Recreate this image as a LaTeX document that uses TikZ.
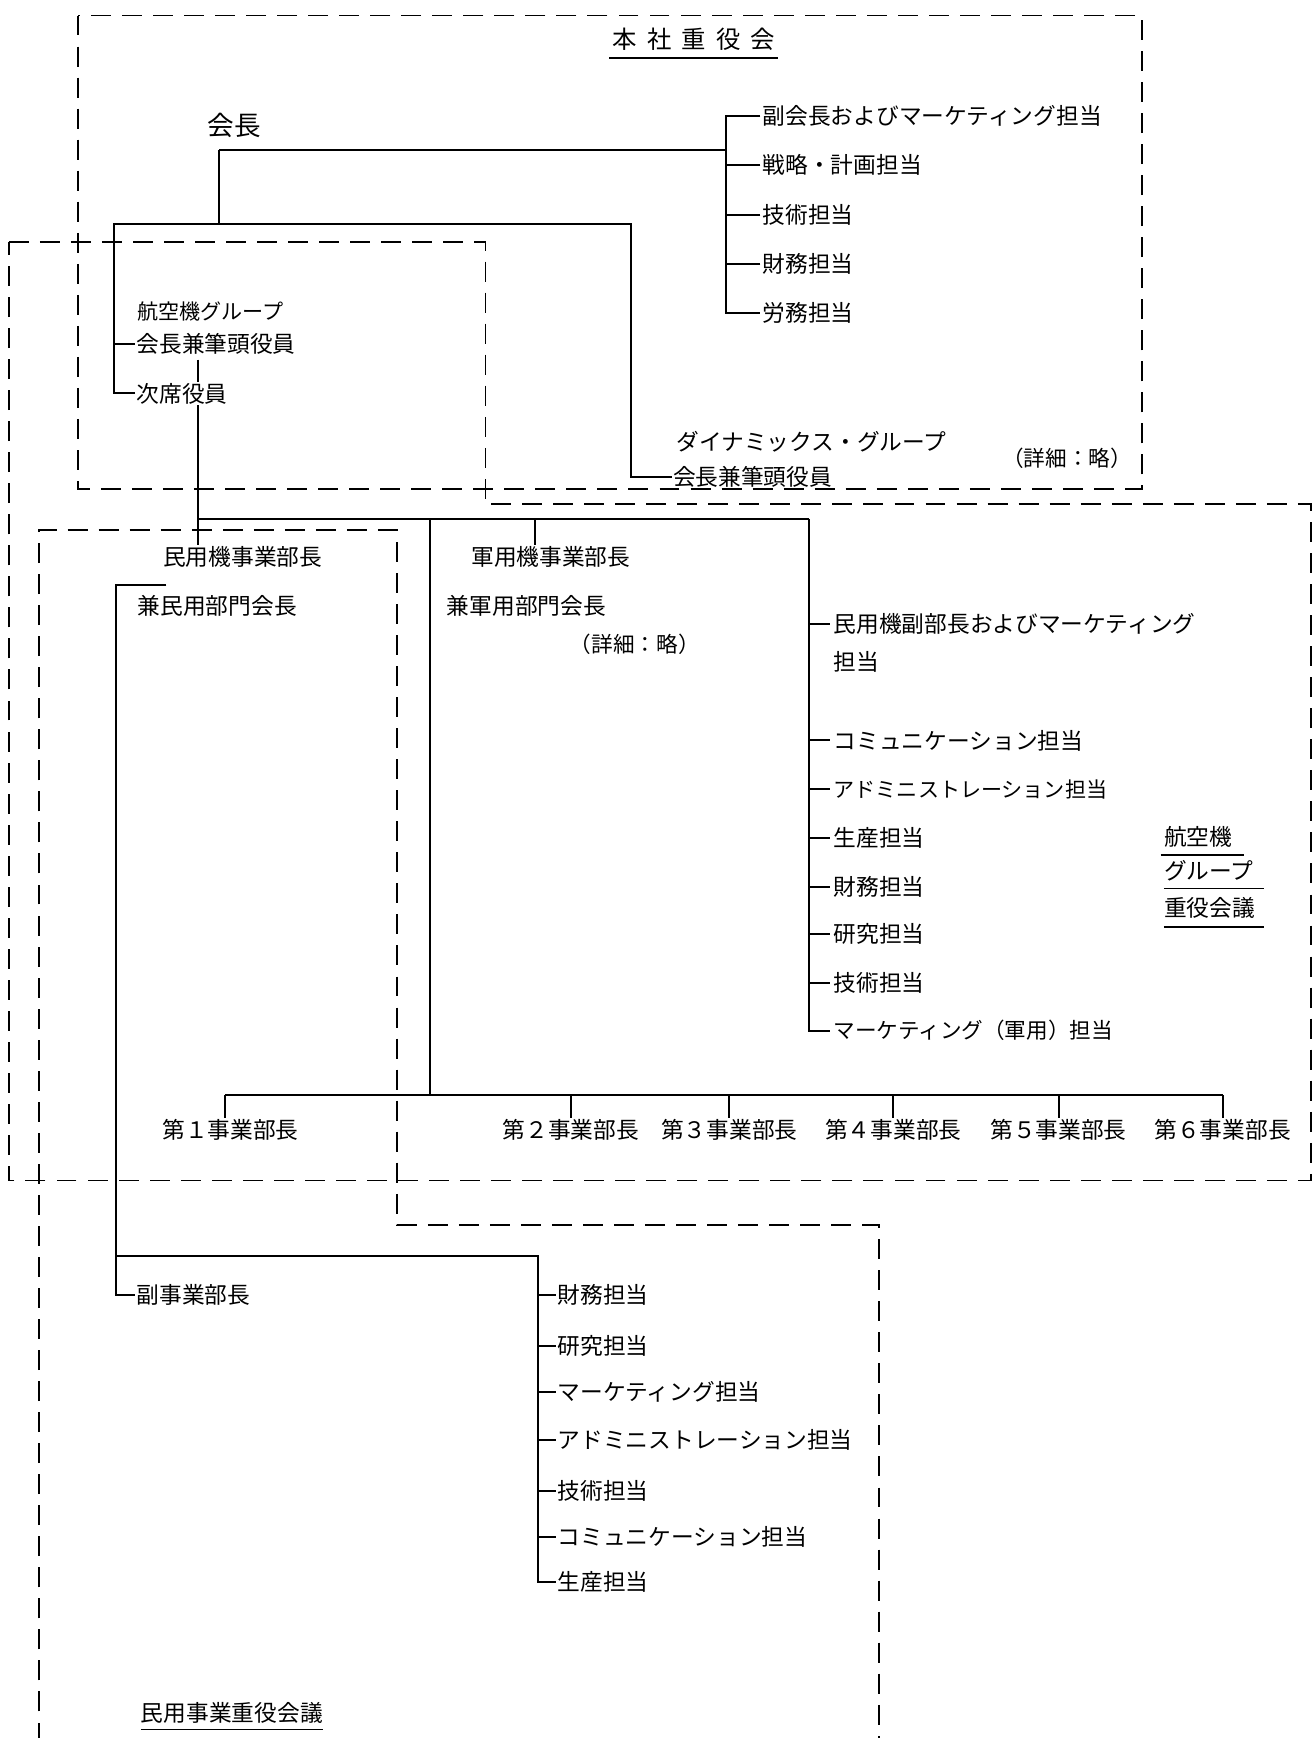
\documentclass[tikz,border=0pt]{standalone}
\usepackage{fontspec}
\newfontfamily\jp{Noto Sans CJK JP}
\begin{document}
\begin{tikzpicture}[x=1pt,y=-1pt,
  lbl/.style={anchor=west, inner sep=0pt, text height=18pt, text depth=2.5pt, font=\jp\fontsize{20.5}{24}\selectfont},
  small/.style={lbl, text height=17pt, text depth=2.4pt, font=\jp\fontsize{19.5}{22}\selectfont},
  ctr/.style={lbl, anchor=center},
  big/.style={lbl, text height=21.1pt, text depth=2.9pt, font=\jp\fontsize{24}{28}\selectfont},
  titlestyle/.style={ctr, text height=19.4pt, text depth=2.6pt, font=\jp\fontsize{22}{26}\selectfont},
  conn/.style={line width=1.8pt},
  council/.style={dash pattern=on 18pt off 10pt, line width=1.7pt},
  uline/.style={line width=1.4pt}
]
\useasboundingbox (0,0) rectangle (1185,1568);
\fill[white] (0,0) rectangle (1185,1568);

% ---------- dashed council boxes ----------
\draw[council] (70,14) rectangle (1030,441);
\draw[council] (8,218) -- (438,218) -- (438,455) -- (1183,455) -- (1183,1065) -- (8,1065) -- cycle;
\draw[council] (35,1600) -- (35,478) -- (358,478) -- (358,1105) -- (793,1105) -- (793,1600);

% ---------- headquarters board ----------
\node[titlestyle] (hq) at (626,35) {本\hspace{9pt}社\hspace{9pt}重\hspace{9pt}役\hspace{9pt}会};
\draw[uline] ([xshift=-3pt,yshift=-6pt]hq.south west) -- ([xshift=3pt,yshift=-6pt]hq.south east);

\node[big] (chair) at (187,113) {会長};
\node[lbl] (vp)    at (688,105) {副会長およびマーケティング担当};
\node[lbl] (strat) at (688,149) {戦略・計画担当};
\node[lbl] (tech1) at (688,194) {技術担当};
\node[lbl] (fin1)  at (688,238) {財務担当};
\node[lbl] (labor) at (688,282) {労務担当};

\coordinate (c1) at (198,135);
\coordinate (c2) at (198,202);
\coordinate (hqs) at (655,105);
\draw[conn] ([xshift=-2pt]vp.west) -- (hqs) -- (hqs |- labor.west) -- ([xshift=-2pt]labor.west);
\draw[conn] ([xshift=-2pt]strat.west) -- (hqs |- strat.west);
\draw[conn] ([xshift=-2pt]tech1.west) -- (hqs |- tech1.west);
\draw[conn] ([xshift=-2pt]fin1.west) -- (hqs |- fin1.west);
\draw[conn] (c1) -- (hqs |- c1);
\draw[conn] (c1) -- (c2);

% ---------- aircraft group chairman ----------
\node[small, font=\jp\fontsize{19}{22}\selectfont] (agcap) at (124,281) {航空機グループ};
\node[lbl] (agchair) at (123,310) {会長兼筆頭役員};
\node[lbl] (agvice)  at (123,355) {次席役員};

% ---------- dynamics group ----------
\node[lbl] (dyncap)   at (610,399) {ダイナミックス・グループ};
\node[lbl] (dynchair) at (607,430) {会長兼筆頭役員};
\node[small] (dyndet) at (904,414) {（詳細：略）};

\coordinate (jl) at (103,202);
\coordinate (jr) at (569,202);
\draw[conn] ([xshift=-1pt]agvice.west) -| (jl) -- (jr) |- ([xshift=-1pt]dynchair.west);
\draw[conn] ([xshift=-1pt]agchair.west) -- (jl |- agchair.west);

\coordinate (t) at (179,468);
\coordinate (tmil) at (483,468);
\coordinate (tm) at (388,468);
\coordinate (tr) at (730,468);
\draw[conn] ([yshift=-4pt]agchair.south -| t) -- (agvice.north -| t);

% ---------- civil and military aircraft ----------
\node[lbl] (civ)    at (147,502) {民用機事業部長};
\node[lbl] (civ2)   at (124,547) {兼民用部門会長};
\node[lbl] (mil)    at (425,502) {軍用機事業部長};
\node[lbl] (mil2)   at (403,547) {兼軍用部門会長};
\node[small] (mildet) at (514,581) {（詳細：略）};

\draw[conn] (agvice.south -| t) -- (civ.north -| t);
\draw[conn] (t) -- (tr);
\draw[conn] (tmil) -- (tmil |- mil.north);

% right bracket of the aircraft group
\node[lbl] (dvp1) at (752,563) {民用機副部長およびマーケティング};
\node[lbl] (dvp2) at (752,597) {担当};
\node[lbl] (comm2) at (752,668) {コミュニケーション担当};
\node[small, font=\jp\fontsize{19}{22}\selectfont] (adm2)  at (752,712) {アドミニストレーション担当};
\node[lbl] (prod2) at (752,756) {生産担当};
\node[lbl] (fin2)  at (752,800) {財務担当};
\node[lbl] (res2)  at (752,843) {研究担当};
\node[lbl] (tech2) at (752,887) {技術担当};
\node[small] (mkt2)  at (752,930) {マーケティング（軍用）担当};

\draw[conn] (tr) -- (tr |- mkt2.west) -- ([xshift=-3pt]mkt2.west);
\foreach \n in {dvp1,comm2,adm2,prod2,fin2,res2,tech2}{
  \draw[conn] (tr |- \n.west) -- ([xshift=-3pt]\n.west);
}

% ---------- divisions ----------
\node[ctr] (d1) at (208,1019) {第１事業部長};
\node[ctr] (d2) at (515,1019) {第２事業部長};
\node[ctr] (d3) at (658,1019) {第３事業部長};
\node[ctr] (d4) at (806,1019) {第４事業部長};
\node[ctr] (d5) at (955,1019) {第５事業部長};
\node[ctr] (d6) at (1103,1019) {第６事業部長};
\coordinate (bl) at (0,988);
\draw[conn] (tm) -- (tm |- bl);
\draw[conn] ([xshift=-5pt]d1.north |- bl) -- (d6.north |- bl);
\draw[conn] ([xshift=-5pt]d1.north |- bl) -- ([xshift=-5pt]d1.north);
\foreach \n in {d2,d3,d4,d5,d6}{
  \draw[conn] (\n.north |- bl) -- (\n.north);
}

% ---------- council labels ----------
\node[lbl] (agc1) at (1050,755) {航空機};
\node[lbl] (agc2) at (1050,786) {グループ};
\node[lbl] (agc3) at (1050,819) {重役会議};
\draw[uline] ([xshift=-3pt,yshift=-6pt]agc1.south west) -- ++(75,0);
\draw[uline] ([yshift=-5pt]agc2.south west) -- ++(90,0);
\draw[uline] ([yshift=-7pt]agc3.south west) -- ++(90,0);

% ---------- civil business ----------
\coordinate (cvt) at (150,528);
\coordinate (cvl) at (105,528);
\coordinate (cj) at (105,1133);
\coordinate (cjr) at (485,1133);
\node[lbl] (dep) at (123,1168) {副事業部長};
\node[lbl] (cfin)  at (503,1168) {財務担当};
\node[lbl] (cres)  at (503,1214) {研究担当};
\node[lbl] (cmkt)  at (503,1256) {マーケティング担当};
\node[lbl] (cadm)  at (503,1299) {アドミニストレーション担当};
\node[lbl] (ctech) at (503,1345) {技術担当};
\node[lbl] (ccomm) at (503,1387) {コミュニケーション担当};
\node[lbl] (cprod) at (503,1427) {生産担当};

\draw[conn] (cvt) -- (cvl) |- ([xshift=-1pt]dep.west);
\draw[conn] (cj) -- (cjr) |- ([xshift=-1pt]cprod.west);
\foreach \n in {cfin,cres,cmkt,cadm,ctech,ccomm}{
  \draw[conn] (cjr |- \n.west) -- ([xshift=-1pt]\n.west);
}

\node[lbl] (civc) at (127,1545) {民用事業重役会議};
\draw[uline] ([yshift=-5pt]civc.south west) -- ([yshift=-5pt]civc.south east);

\end{tikzpicture}
\end{document}
